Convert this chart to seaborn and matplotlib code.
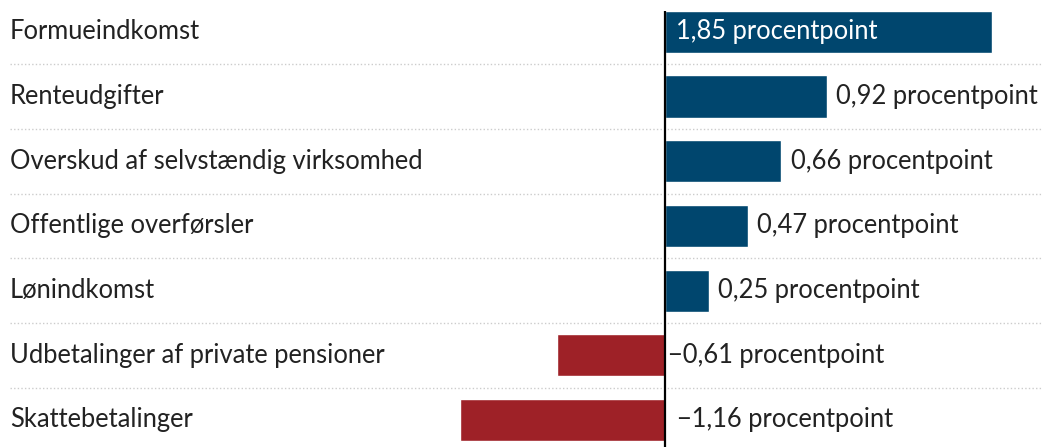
import matplotlib
matplotlib.use("Agg")
import matplotlib.pyplot as plt
import matplotlib.transforms as mtransforms
import seaborn as sns
import pandas as pd

categories = ["Formueindkomst", "Renteudgifter", "Overskud af selvstændig virksomhed",
              "Offentlige overførsler", "Lønindkomst", "Udbetalinger af private pensioner",
              "Skattebetalinger"]
values = [1.85, 0.92, 0.66, 0.47, 0.25, -0.61, -1.16]
value_labels = ["1,85 procentpoint", "0,92 procentpoint", "0,66 procentpoint",
                "0,47 procentpoint", "0,25 procentpoint", "\u22120,61 procentpoint",
                "\u22121,16 procentpoint"]

BLUE = "#00466e"
RED = "#9e2127"
TEXT = "#222222"
FS = 18.4
FW = "normal"

sns.set_theme(style="white")
plt.rcParams["font.family"] = ["Lato", "DejaVu Sans"]

df = pd.DataFrame({"cat": categories, "val": values,
                   "sign": ["pos" if v >= 0 else "neg" for v in values]})

W, H = 1043, 447
fig = plt.figure(figsize=(W / 100, H / 100), dpi=100)
ax = fig.add_axes([0, 0, 1, 1])

sns.barplot(data=df, y="cat", x="val", hue="sign", order=categories,
            palette={"pos": BLUE, "neg": RED}, width=0.65, dodge=False,
            legend=False, ax=ax, saturation=1)

zero_px = 665
ppu = 176.5
ax.set_xlim(-zero_px / ppu, (W - zero_px) / ppu)
row0 = 31.8
pitch = 64.7
ax.set_ylim((H - row0) / pitch, -row0 / pitch)
ax.axis("off")

# separators
for i in range(len(categories) - 1):
    ax.plot([ax.get_xlim()[0] + 10 / ppu, ax.get_xlim()[1]], [i + 0.5, i + 0.5],
            color="#cccccc", lw=1.0, ls=(0, (1, 1.6)), zorder=0)

# zero line
ax.vlines(0, -0.325, ax.get_ylim()[0], color="black", lw=1.6, zorder=5)

# category labels
trans = mtransforms.blended_transform_factory(ax.transAxes, ax.transData)
for i, c in enumerate(categories):
    ax.text(10 / W, i, c, transform=trans, ha="left", va="center",
            fontsize=FS, fontweight=FW, color=TEXT)

# value labels
neg_pad = [3, 12]
ni = 0
for i, (v, lab) in enumerate(zip(values, value_labels)):
    if i == 0:
        ax.annotate(lab, (0, i), xytext=(8, 0), textcoords="offset points",
                    ha="left", va="center", fontsize=FS, fontweight=FW,
                    color="white", zorder=6)
    elif v >= 0:
        ax.annotate(lab, (v, i), xytext=(6.5, 0), textcoords="offset points",
                    ha="left", va="center", fontsize=FS, fontweight=FW, color=TEXT)
    else:
        ax.annotate(lab, (0, i), xytext=(neg_pad[ni] * 0.72, 0), textcoords="offset points",
                    ha="left", va="center", fontsize=FS, fontweight=FW, color=TEXT)
        ni += 1

fig.savefig("out.png", dpi=100)
